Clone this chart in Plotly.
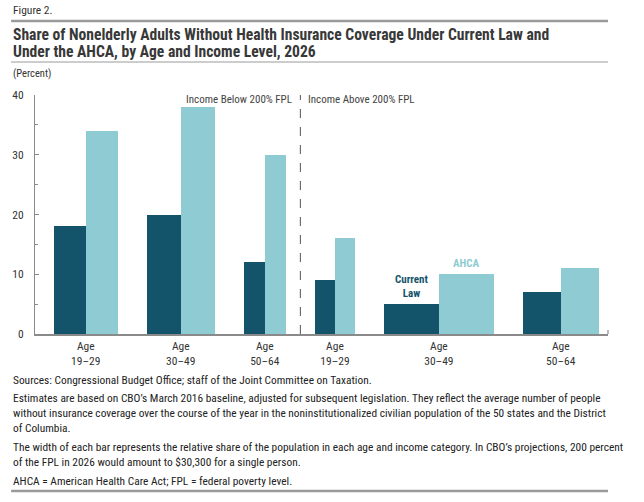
import plotly.graph_objects as go

# ---- data ----
age_groups = ["Age<br>19–29", "Age<br>30–49", "Age<br>50–64",
              "Age<br>19–29", "Age<br>30–49", "Age<br>50–64"]
income_groups = ["Income Below 200% FPL"] * 3 + ["Income Above 200% FPL"] * 3
current_law = [18, 20, 12, 9, 5, 7]
ahca = [34, 38, 30, 16, 10, 11]
# relative population share (bar width, same for both bars of a pair)
pop_share = [32, 34, 21, 20, 55, 38]

# ---- layout constants ----
W, H = 644, 502
L, R, T, B = 32, 36, 95, 168
PW, PH = W - L - R, H - T - B
DARK = "#14546A"
LIGHT = "#8ECBD3"
FONT = "Liberation Sans Narrow, Roboto Condensed, Arial Narrow, Roboto, sans-serif"
GAP = 29.5
START = 19

def px(x):
    return (x - L) / PW

def py(y):
    return (H - B - y) / PH

# compute bar positions from widths
cl_x, ah_x, centers = [], [], []
pos = START
group_edges = []
for w in pop_share:
    cl_x.append(pos + w / 2)
    ah_x.append(pos + 1.5 * w)
    centers.append(pos + w)
    group_edges.append((pos, pos + 2 * w))
    pos += 2 * w + GAP

fig = go.Figure()
fig.add_trace(go.Bar(x=cl_x, y=current_law, width=pop_share, marker_color=DARK,
                     marker_line_width=0, name="Current Law", hoverinfo="y"))
fig.add_trace(go.Bar(x=ah_x, y=ahca, width=pop_share, marker_color=LIGHT,
                     marker_line_width=0, name="AHCA", hoverinfo="y"))

divider = (group_edges[2][1] + group_edges[3][0]) / 2

shapes = [
    dict(type="line", xref="x", yref="y", x0=divider, x1=divider, y0=0, y1=40,
         line=dict(color="#555555", width=1, dash="dash")),
    # small end tick on x axis
    dict(type="line", xref="paper", yref="paper", x0=1, x1=1, y0=0, y1=py(H - B - 4),
         line=dict(color="#8a8a8a", width=1.2)),
    # rules
    dict(type="line", xref="paper", yref="paper", x0=px(8), x1=px(608), y0=py(21), y1=py(21),
         line=dict(color="#9a9a9a", width=2.5)),
    dict(type="line", xref="paper", yref="paper", x0=px(8), x1=px(608), y0=py(62), y1=py(62),
         line=dict(color="#9a9a9a", width=1)),
    dict(type="line", xref="paper", yref="paper", x0=px(8), x1=px(608), y0=py(491), y1=py(491),
         line=dict(color="#9a9a9a", width=2.5)),
]

def txt(x, y, text, size=11.4, color="#222222", bold=False, xanchor="left", yanchor="middle"):
    if bold:
        text = "<b>" + text + "</b>"
    return dict(xref="paper", yref="paper", x=px(x), y=py(y), text=text, showarrow=False,
                xanchor=xanchor, yanchor=yanchor, align="left",
                font=dict(family=FONT, size=size, color=color))

annotations = [
    txt(8, 10, "Figure 2.", size=11.5, color="#333333"),
    txt(8, 34.5, "Share of Nonelderly Adults Without Health Insurance Coverage Under Current Law and",
        size=15.6, color="#383838", bold=True),
    txt(8, 52.5, "Under the AHCA, by Age and Income Level, 2026", size=15.6, color="#383838", bold=True),
    txt(8, 73, "(Percent)", size=10.5, color="#333333"),
    txt(8, 380, "Sources: Congressional Budget Office; staff of the Joint Committee on Taxation."),
    txt(8, 398, "Estimates are based on CBO’s March 2016 baseline, adjusted for subsequent legislation. They reflect the average number of people"),
    txt(8, 413, "without insurance coverage over the course of the year in the noninstitutionalized civilian population of the 50 states and the District"),
    txt(8, 428, "of Columbia."),
    txt(8, 447, "The width of each bar represents the relative share of the population in each age and income category. In CBO’s projections, 200 percent"),
    txt(8, 462, "of the FPL in 2026 would amount to $30,300 for a single person."),
    txt(8, 481, "AHCA = American Health Care Act; FPL = federal poverty level."),
    dict(xref="x", yref="y", x=divider - 6, y=39.3, text=income_groups[0], showarrow=False,
         xanchor="right", yanchor="middle", font=dict(family=FONT, size=11, color="#444444")),
    dict(xref="x", yref="y", x=divider + 6, y=39.3, text=income_groups[3], showarrow=False,
         xanchor="left", yanchor="middle", font=dict(family=FONT, size=11, color="#444444")),
    dict(xref="x", yref="y", x=cl_x[4], y=current_law[4] + 0.4, text="<b>Current<br>Law</b>",
         showarrow=False, xanchor="center", yanchor="bottom",
         font=dict(family=FONT, size=11, color=DARK)),
    dict(xref="x", yref="y", x=ah_x[4], y=ahca[4] + 0.4, text="<b>AHCA</b>",
         showarrow=False, xanchor="center", yanchor="bottom",
         font=dict(family=FONT, size=11, color=LIGHT)),
]

fig.update_layout(
    width=W, height=H,
    margin=dict(l=L, r=R, t=T, b=B, pad=0),
    paper_bgcolor="white", plot_bgcolor="white",
    showlegend=False, barmode="overlay", bargap=0,
    shapes=shapes, annotations=annotations,
    font=dict(family=FONT, size=11, color="#333333"),
)
fig.update_xaxes(range=[0, PW], tickvals=centers, ticktext=age_groups, showgrid=False,
                 zeroline=False, showline=True, linecolor="#8a8a8a", linewidth=1.5,
                 ticks="", tickfont=dict(family=FONT, size=11.5, color="#333333"), fixedrange=True)
fig.update_yaxes(range=[0, 40], tickvals=[0, 10, 20, 30, 40], showgrid=False, zeroline=False,
                 showline=True, linecolor="#8a8a8a", linewidth=1, ticks="inside", ticklen=4,
                 tickcolor="#8a8a8a", ticklabelstandoff=8,
                 minor=dict(tickvals=[5, 15, 25, 35], ticks="inside", ticklen=3, tickcolor="#8a8a8a"),
                 tickfont=dict(family=FONT, size=11.5, color="#333333"), fixedrange=True)

fig.write_html("out.html", post_script="document.body.style.margin='0';",
               config={"displayModeBar": False})
